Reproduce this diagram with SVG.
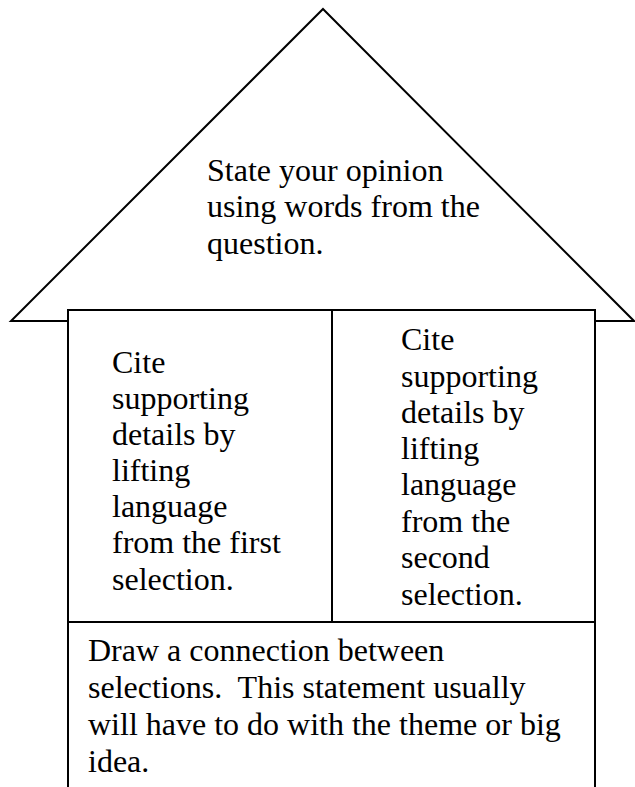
<svg xmlns="http://www.w3.org/2000/svg" width="635" height="787" viewBox="0 0 635 787">
<style>
.ln{fill:none;stroke:#000;stroke-width:2}
.box{fill:#fff;stroke:#000;stroke-width:2}
text{font-family:"Liberation Serif","Times New Roman",serif;font-size:32px;fill:#000}
</style>
<rect width="635" height="787" fill="#fff"/>
<g id="roof">
<polygon class="box" points="323,9 634,321 11,321"/>
<text x="207" y="181">State your opinion</text>
<text x="207" y="217">using words from the</text>
<text x="207" y="254">question.</text>
</g>
<g id="walls">
<rect class="box" x="68" y="310" width="527" height="500"/>
</g>
<g id="connectors">
<line class="ln" x1="332" y1="310" x2="332" y2="622"/>
<line class="ln" x1="68" y1="622" x2="595" y2="622"/>
</g>
<g id="left-cell">
<text x="112" y="373">Cite</text>
<text x="112" y="409">supporting</text>
<text x="112" y="445">details by</text>
<text x="112" y="481">lifting</text>
<text x="112" y="517">language</text>
<text x="112" y="553">from the first</text>
<text x="112" y="590">selection.</text>
</g>
<g id="right-cell">
<text x="401" y="350">Cite</text>
<text x="401" y="387">supporting</text>
<text x="401" y="423">details by</text>
<text x="401" y="459">lifting</text>
<text x="401" y="495">language</text>
<text x="401" y="532">from the</text>
<text x="401" y="568">second</text>
<text x="401" y="605">selection.</text>
</g>
<g id="bottom">
<text x="88" y="661">Draw a connection between</text>
<text x="88" y="698" xml:space="preserve">selections.  This statement usually</text>
<text x="88" y="735">will have to do with the theme or big</text>
<text x="88" y="772">idea.</text>
</g>
</svg>
